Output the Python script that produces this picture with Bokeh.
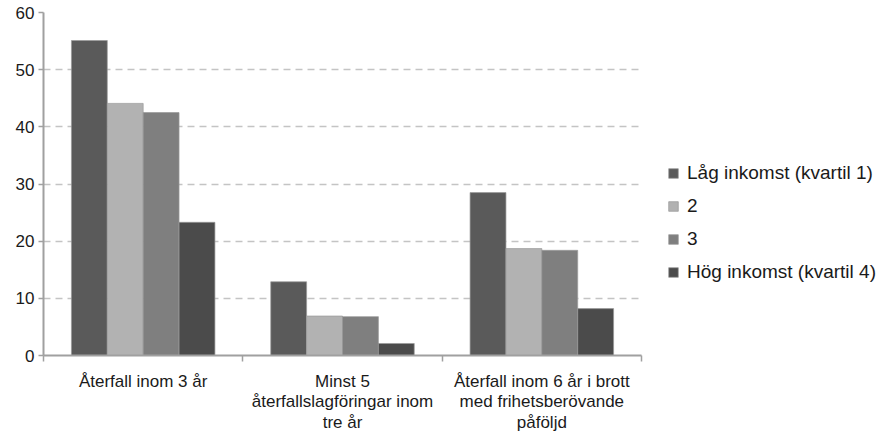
from bokeh.plotting import figure
from bokeh.models import (ColumnDataSource, FixedTicker, Legend, LegendItem, Range1d)
from bokeh.embed import file_html
from bokeh.resources import INLINE

categories = ["Återfall inom 3 år",
              "Minst 5\nåterfallslagföringar inom\ntre år",
              "Återfall inom 6 år i brott\nmed frihetsberövande\npåföljd"]
series_names = ["Låg inkomst (kvartil 1)", "2", "3", "Hög inkomst (kvartil 4)"]
kvartil1 = [55.1, 12.9, 28.5]
kvartil2 = [44.1, 6.9, 18.7]
kvartil3 = [42.5, 6.8, 18.4]
kvartil4 = [23.3, 2.1, 8.2]
y_ticks = [0, 10, 20, 30, 40, 50, 60]

colors = ["#5a5a5a", "#b2b2b2", "#7f7f7f", "#4b4b4b"]
offsets = [-0.27, -0.09, 0.09, 0.27]
bar_w = 0.18
FONT = "Liberation Sans"

p = figure(frame_width=598, frame_height=343, output_backend="svg", toolbar_location=None,
           x_range=Range1d(0, 3), y_range=Range1d(0, 60),
           min_border_left=43, min_border_right=10, min_border_top=12,
           min_border_bottom=10)
p.outline_line_color = None
p.background_fill_color = "white"
p.border_fill_color = "white"

centers = [i + 0.5 for i in range(len(categories))]
renderers = []
for vals, col, off in zip([kvartil1, kvartil2, kvartil3, kvartil4], colors, offsets):
    src = ColumnDataSource(dict(x=[c + off for c in centers], top=vals))
    r = p.vbar(x="x", top="top", width=bar_w, source=src, fill_color=col,
               line_color="#9a9a9a", line_width=1, line_alpha=0.7)
    renderers.append(r)

# axes
p.xaxis.ticker = FixedTicker(ticks=centers, minor_ticks=list(range(len(categories) + 1)))
p.xaxis.major_label_overrides = {c: lab for c, lab in zip(centers, categories)}
p.xaxis.major_tick_line_color = None
p.xaxis.minor_tick_line_color = "#a0a0a0"
p.xaxis.minor_tick_line_width = 1.5
p.xaxis.minor_tick_out = 6
p.xaxis.minor_tick_in = 0
p.xaxis.axis_line_color = "#a0a0a0"
p.xaxis.axis_line_width = 2
p.xaxis.major_label_text_font = FONT
p.xaxis.major_label_text_font_size = "17px"
p.xaxis.major_label_text_color = "#1a1a1a"
p.xaxis.major_label_text_line_height = 1.1
p.xaxis.major_label_standoff = 10

p.yaxis.ticker = FixedTicker(ticks=y_ticks)
p.yaxis.axis_line_color = "#a0a0a0"
p.yaxis.axis_line_width = 2
p.yaxis.major_tick_line_color = "#a0a0a0"
p.yaxis.major_tick_line_width = 1.5
p.yaxis.major_tick_out = 5
p.yaxis.major_tick_in = 0
p.yaxis.minor_tick_line_color = None
p.yaxis.major_label_text_font = FONT
p.yaxis.major_label_text_font_size = "17px"
p.yaxis.major_label_text_color = "#1a1a1a"
p.yaxis.major_label_standoff = 4

p.xgrid.grid_line_color = None
p.ygrid.grid_line_color = "#c4c4c4"
p.ygrid.grid_line_dash = "7 5"
p.ygrid.grid_line_width = 1.5

legend = Legend(items=[LegendItem(label=n, renderers=[r]) for n, r in zip(series_names, renderers)],
                location=(26, 72), orientation="vertical",
                glyph_width=12, glyph_height=12, label_height=20, spacing=11,
                label_standoff=8, padding=0, margin=0,
                border_line_color=None, background_fill_alpha=0,
                label_text_font=FONT, label_text_font_size="19px",
                label_text_color="#1a1a1a")
p.add_layout(legend, "right")

open("out.html", "w").write(file_html(p, INLINE))
